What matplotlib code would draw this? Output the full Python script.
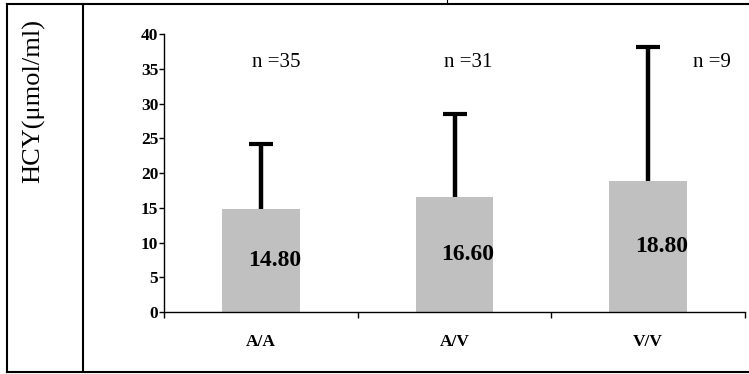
import matplotlib
matplotlib.use("Agg")
import matplotlib.pyplot as plt
from matplotlib.lines import Line2D

plt.rcParams['font.family'] = ['Liberation Serif', 'DejaVu Serif']

# genotype groups, mean HCY and upper SD
genotypes = ['A/A', 'A/V', 'V/V']
hcy_mean = [14.80, 16.60, 18.80]
hcy_sd = [9.4, 11.9, 19.4]
group_n = ['n =35', 'n =31', 'n =9']
y_ticks = [0, 5, 10, 15, 20, 25, 30, 35, 40]

fig = plt.figure(figsize=(7.49, 3.74), dpi=100)
ax = fig.add_axes([164 / 749, 1 - 312 / 374, (745 - 164) / 749, (312 - 34.3) / 374])

x = list(range(len(genotypes)))
ax.bar(x, hcy_mean, width=0.40, color='#c0c0c0', zorder=2)

# upper-only error bars: stem from bar top plus a cap
tops = [m + s for m, s in zip(hcy_mean, hcy_sd)]
ax.vlines(x, hcy_mean, tops, colors='black', linewidth=3.2, zorder=1)
ax.plot(x, tops, linestyle='none', marker='_', markersize=17,
        markeredgewidth=3, color='black', zorder=1)

for xi, v in zip(x, hcy_mean):
    ax.text(xi + 0.07, v / 2, f'{v:.2f}', ha='center', va='center',
            fontsize=17, fontweight='bold', zorder=3)

n_pos = [0.08, 1.07, 2.33]
for xp, lab in zip(n_pos, group_n):
    ax.text(xp, 35.9, lab, ha='center', va='center', fontsize=15)

ax.set_xlim(-0.5, 2.5)
ax.set_ylim(0, 40)
ax.set_yticks(y_ticks)
ax.set_yticklabels([str(t) for t in y_ticks], fontsize=12.5, fontweight='bold')
ax.tick_params(axis='y', direction='out', length=3.6, width=1, pad=0.5)

# tick marks at group boundaries, labels at group centres
ax.set_xticks([-0.5, 0.5, 1.5, 2.5])
ax.set_xticklabels([])
ax.set_xticks(x, minor=True)
ax.set_xticklabels(genotypes, minor=True, fontsize=12.5, fontweight='bold')
ax.tick_params(axis='x', which='major', direction='out', length=4, width=1)
ax.tick_params(axis='x', which='minor', length=0, pad=16)

for side in ['top', 'right']:
    ax.spines[side].set_visible(False)
for side in ['left', 'bottom']:
    ax.spines[side].set_linewidth(1)

# surrounding table cell lines
W, H = 749, 374
def fig_line(x0, y0, x1, y1, lw=1.5):
    fig.add_artist(Line2D([x0 / W, x1 / W], [1 - y0 / H, 1 - y1 / H],
                          transform=fig.transFigure, color='black', linewidth=lw))

fig_line(7, 4, 749, 4)
fig_line(7, 372, 749, 372)
fig_line(7, 4, 7, 372)
fig_line(83, 4, 83, 372)
fig_line(447, 0, 447, 4, lw=0.8)

fig.text(34 / W, 1 - 101 / H, 'HCY(μmol/ml)', rotation=90, ha='center', va='center',
         fontsize=19)

fig.savefig('out.png', dpi=100)
